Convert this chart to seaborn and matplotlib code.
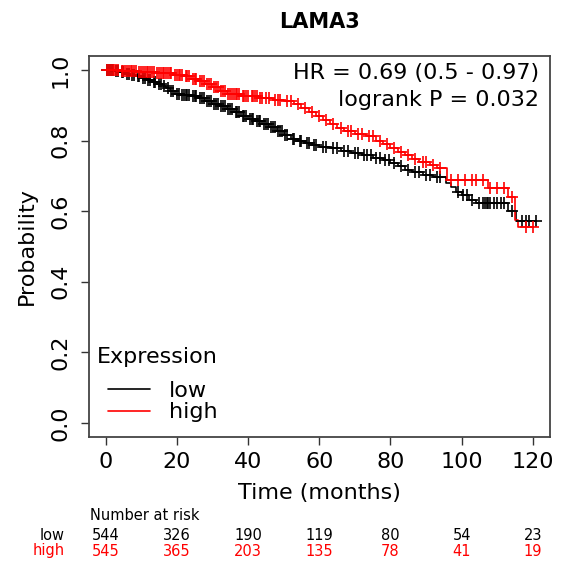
import numpy as np
import pandas as pd
import matplotlib
matplotlib.use("Agg")
import matplotlib.pyplot as plt
import seaborn as sns
from matplotlib.transforms import blended_transform_factory

# ---------------- data ----------------
title = "LAMA3"
groups = ["low", "high"]
colors = {"low": "black", "high": "red"}

low_times = [0, 2.5, 4, 5.5, 7, 8.5, 10, 11.5, 13, 14.5, 16, 17, 18, 19.5, 21, 24, 26, 28, 30,
             32, 34, 36, 38, 40, 42, 44, 46, 48, 50, 52, 54, 56, 58, 60, 63, 66, 69, 72, 75,
             78, 80, 82, 84, 86, 89, 92, 95.5, 97, 98.5, 100, 102, 104, 113, 115.3]
low_surv = [1.0, 0.997, 0.994, 0.990, 0.986, 0.982, 0.977, 0.972, 0.967, 0.962, 0.956, 0.948,
            0.940, 0.933, 0.930, 0.927, 0.920, 0.912, 0.905, 0.897, 0.889, 0.880, 0.870, 0.862,
            0.855, 0.848, 0.838, 0.827, 0.815, 0.806, 0.800, 0.793, 0.787, 0.782, 0.778, 0.772,
            0.765, 0.758, 0.752, 0.746, 0.738, 0.728, 0.718, 0.710, 0.704, 0.697, 0.681, 0.668,
            0.655, 0.645, 0.632, 0.623, 0.600, 0.572]
low_end = 121.0
low_censor = [0.5, 1, 1.5, 2, 3, 3.5, 4.5, 5, 6, 6.5, 7.5, 8, 9, 9.5, 10.5, 11, 12, 12.5, 13.5,
              14, 15, 15.5, 16.5, 17.5, 18.5, 19, 20, 20.5, 21.5, 22, 22.5, 23, 23.5, 24.5, 25,
              25.5, 26.5, 27, 27.5, 28.5, 29, 29.5, 30.5, 31, 31.5, 32.5, 33, 33.5, 34.5, 35,
              35.5, 36.5, 37, 37.5, 38.5, 39, 39.5, 40.5, 41, 41.5, 42.5, 43, 43.5, 44.5, 45,
              45.5, 46.5, 47, 47.5, 48.5, 49, 49.5, 50.5, 51, 52.5, 53, 54.5, 55, 56.5, 57, 58.5,
              59, 61, 62, 64, 65, 67, 68, 70, 71, 72.5, 73.5, 74.5, 76, 77, 78.5, 79.5, 81, 83,
              85, 87, 88, 90, 91, 93, 94, 99, 100.5, 101.5, 103, 105, 106, 106.5, 107, 107.5,
              108, 109, 110, 111, 112, 114, 117, 118, 119, 121]

high_times = [0, 4, 9, 14, 19, 22, 24, 26, 28, 30, 32, 34, 38, 43, 47, 50, 53, 55, 57, 59, 61,
              63, 65, 67, 70, 73, 76, 78, 80, 82, 84, 86, 88, 91, 93, 95.8, 107.4, 113, 115, 115.8]
high_surv = [1.0, 0.997, 0.994, 0.991, 0.987, 0.983, 0.976, 0.969, 0.962, 0.952, 0.942, 0.932,
             0.926, 0.921, 0.916, 0.912, 0.903, 0.893, 0.880, 0.870, 0.860, 0.848, 0.835, 0.827,
             0.820, 0.812, 0.800, 0.790, 0.780, 0.768, 0.758, 0.748, 0.740, 0.730, 0.722, 0.688,
             0.666, 0.640, 0.575, 0.555]
high_end = 120.0
high_censor = [0.5, 1, 1.5, 2, 2.5, 3, 3.5, 4.5, 5, 5.5, 6, 6.5, 7, 7.5, 8, 8.5, 9.5, 10, 10.5,
               11, 11.5, 12, 12.5, 13, 13.5, 14.5, 15, 15.5, 16, 16.5, 17, 17.5, 18, 18.5, 19.5,
               20, 20.5, 21, 21.5, 22.5, 23, 23.5, 24.5, 25, 25.5, 26.5, 27, 27.5, 28.5, 29,
               29.5, 30.5, 31, 31.5, 32.5, 33, 33.5, 34.5, 35, 35.5, 36, 36.5, 37, 37.5, 38.5,
               39, 39.5, 40, 41, 41.5, 42, 42.5, 43.5, 44, 45, 46, 47.5, 48.5, 49, 51, 52, 54,
               56, 58, 60, 62, 64, 66, 68, 69, 71, 72, 74, 75, 77, 79, 81, 83, 85, 87, 89, 90,
               92, 94, 97, 99, 101, 103, 104, 106, 108, 110, 112, 114, 118, 120]

risk_times = [0, 20, 40, 60, 80, 100, 120]
risk_low = [544, 326, 190, 119, 80, 54, 23]
risk_high = [545, 365, 203, 135, 78, 41, 19]

hr_text = "HR = 0.69 (0.5 - 0.97)"
p_text = "logrank P = 0.032"

# ---------------- tables ----------------
def curve_df(times, surv, end, name):
    t = list(times) + [end]
    s = list(surv) + [surv[-1]]
    return pd.DataFrame({"time": t, "surv": s, "group": name})

def censor_df(times, surv, cens, name):
    times = np.asarray(times)
    surv = np.asarray(surv)
    idx = np.searchsorted(times, np.asarray(cens), side="right") - 1
    return pd.DataFrame({"time": cens, "surv": surv[idx], "group": name})

curves = {"low": curve_df(low_times, low_surv, low_end, "low"),
          "high": curve_df(high_times, high_surv, high_end, "high")}
censors = {"low": censor_df(low_times, low_surv, low_censor, "low"),
           "high": censor_df(high_times, high_surv, high_censor, "high")}

# ---------------- plot ----------------
sns.set_style("ticks")
plt.rcParams["font.family"] = ["DejaVu Sans"]
plt.rcParams["text.color"] = "black"
plt.rcParams["axes.labelcolor"] = "black"
plt.rcParams["xtick.color"] = "black"
plt.rcParams["ytick.color"] = "black"

W, H = 563, 565
fig = plt.figure(figsize=(W / 100, H / 100), dpi=100)
ax = fig.add_axes([88.5 / W, 1 - 437 / H, (550 - 88.5) / W, (437 - 56) / H])

for g in groups:
    sns.lineplot(data=curves[g], x="time", y="surv", ax=ax, color=colors[g],
                 drawstyle="steps-post", estimator=None, sort=False, linewidth=1.2,
                 label=g)
for g in groups:
    sns.scatterplot(data=censors[g], x="time", y="surv", ax=ax, color=colors[g],
                    marker="+", s=70, linewidth=1.2, legend=False, zorder=3)

ax.set_xlim(-4.8, 124.8)
ax.set_ylim(-0.04, 1.04)
ax.set_xticks(risk_times)
ax.set_yticks([0, 0.2, 0.4, 0.6, 0.8, 1.0])
ax.set_yticklabels(["0.0", "0.2", "0.4", "0.6", "0.8", "1.0"], rotation=90, va="center")
ax.tick_params(axis="both", labelsize=16, length=6, width=1.0, color="#333333")
ax.tick_params(axis="x", pad=5)
ax.tick_params(axis="y", pad=7)
for sp in ax.spines.values():
    sp.set_visible(True)
    sp.set_color("#444444")
    sp.set_linewidth(1.3)

ax.set_xlabel("Time (months)", fontsize=16, labelpad=8)
ax.set_ylabel("Probability", fontsize=16, labelpad=10)
ax.set_title(title, fontsize=15, fontweight="bold", pad=20)

ax.text(0.977, 0.955, hr_text, transform=ax.transAxes, ha="right", va="center", fontsize=16)
ax.text(0.977, 0.884, p_text, transform=ax.transAxes, ha="right", va="center", fontsize=16)

# legend: title as separate text, entries indented
ax.text((97 - 88.5) / 461.5, (437 - 357) / 381, "Expression", transform=ax.transAxes,
        ha="left", va="center", fontsize=16)
leg = ax.legend(loc="upper left", bbox_to_anchor=((108 - 88.5) / 461.5, (437 - 381) / 381),
                frameon=False, fontsize=16, handlelength=1.9, borderpad=0, borderaxespad=0,
                labelspacing=0.06, handletextpad=0.85)

# number at risk table
tr = blended_transform_factory(ax.transData, fig.transFigure)
fig.text(90 / W, 1 - 515 / H, "Number at risk", ha="left", va="center", fontsize=10.5)
fig.text(65 / W, 1 - 535 / H, "low", ha="right", va="center", fontsize=10.5, color="black")
fig.text(65 / W, 1 - 551 / H, "high", ha="right", va="center", fontsize=10.5, color="red")
for t, a, b in zip(risk_times, risk_low, risk_high):
    ax.text(t, 1 - 535 / H, str(a), transform=tr, ha="center", va="center", fontsize=10.5,
            color="black")
    ax.text(t, 1 - 551 / H, str(b), transform=tr, ha="center", va="center", fontsize=10.5,
            color="red")

fig.savefig("out.png", dpi=100, facecolor="white")
